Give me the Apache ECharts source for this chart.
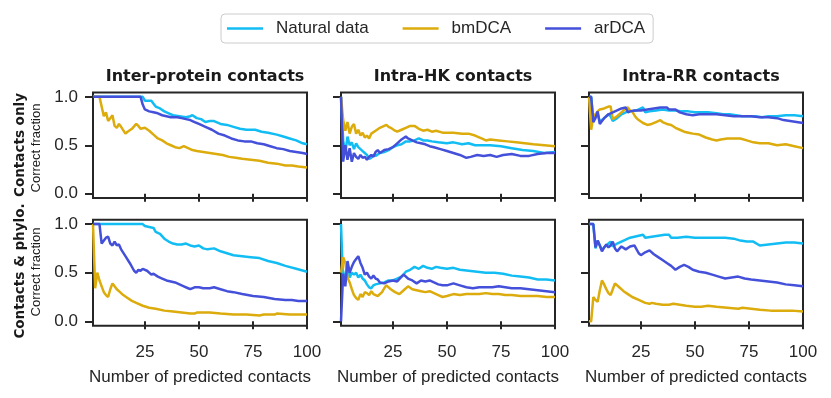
<!DOCTYPE html>
<html>
<head>
<meta charset="utf-8">
<script src="https://cdn.jsdelivr.net/npm/echarts@6/dist/echarts.min.js"></script>
<style>
  html, body { margin: 0; padding: 0; background: #fff; }
  #main { width: 831px; height: 398px; }
</style>
</head>
<body>
<div id="main"></div>
<script>
// data: [number of predicted contacts, correct fraction]
const colTitles = ["Inter-protein contacts", "Intra-HK contacts", "Intra-RR contacts"]
const xTicks = [25, 50, 75, 100]
const yTicks = [0, 0.5, 1]

const interOnlyNat = [[1,1],[24,1],[25,0.96],[28,0.96],[29,0.93],[30,0.9],[32,0.88],[34,0.85],[36,0.83],[38,0.81],[41,0.8],[44,0.79],[46,0.8],[47,0.81],[49,0.78],[51,0.77],[53,0.74],[55,0.75],[57,0.75],[60,0.72],[63,0.71],[66,0.69],[69,0.67],[72,0.66],[76,0.66],[79,0.64],[82,0.63],[86,0.61],[89,0.59],[92,0.57],[95,0.55],[98,0.52],[100,0.51]]
const interOnlyBm = [[1,1],[4,1],[5,0.9],[6,0.8],[7,0.84],[8,0.75],[9,0.78],[10,0.81],[11,0.7],[12,0.68],[13,0.72],[14,0.69],[16,0.62],[17,0.64],[19,0.67],[21,0.72],[22,0.7],[23,0.67],[25,0.68],[27,0.65],[29,0.61],[31,0.57],[33,0.55],[35,0.52],[37,0.5],[39,0.48],[41,0.47],[43,0.49],[45,0.47],[47,0.45],[49,0.44],[52,0.43],[55,0.42],[58,0.41],[61,0.4],[64,0.38],[67,0.37],[70,0.36],[74,0.35],[78,0.34],[82,0.32],[86,0.31],[90,0.29],[93,0.29],[96,0.28],[100,0.27]]
const interOnlyAr = [[1,1],[23,1],[24,0.92],[25,0.87],[27,0.85],[29,0.84],[31,0.83],[33,0.81],[35,0.8],[37,0.79],[40,0.79],[42,0.78],[44,0.77],[46,0.76],[48,0.74],[50,0.72],[53,0.69],[56,0.66],[59,0.62],[62,0.6],[65,0.57],[68,0.55],[71,0.54],[74,0.54],[77,0.52],[80,0.51],[83,0.49],[86,0.47],[89,0.46],[92,0.44],[95,0.43],[98,0.42],[100,0.41]]

const hkOnlyNat = [[1,1],[2,0.55],[3,0.42],[4,0.59],[5,0.5],[6,0.53],[7,0.46],[8,0.52],[9,0.48],[10,0.46],[11,0.44],[12,0.42],[13,0.4],[14,0.36],[15,0.37],[16,0.4],[17,0.39],[19,0.42],[21,0.43],[23,0.45],[25,0.48],[27,0.5],[29,0.51],[31,0.54],[33,0.54],[35,0.55],[37,0.57],[39,0.55],[41,0.55],[43,0.54],[46,0.53],[50,0.52],[53,0.53],[57,0.51],[60,0.52],[63,0.5],[66,0.5],[70,0.5],[75,0.49],[80,0.47],[85,0.45],[90,0.44],[95,0.42],[100,0.43]]
const hkOnlyBm = [[1,1],[2,0.76],[3,0.65],[4,0.74],[5,0.62],[6,0.69],[7,0.72],[8,0.62],[9,0.66],[10,0.6],[11,0.63],[12,0.58],[13,0.6],[14,0.57],[15,0.62],[17,0.65],[19,0.68],[21,0.7],[22,0.71],[23,0.69],[24,0.68],[26,0.65],[27,0.64],[29,0.66],[31,0.68],[33,0.7],[35,0.7],[37,0.67],[39,0.65],[41,0.66],[43,0.64],[45,0.65],[48,0.63],[50,0.63],[53,0.63],[57,0.62],[60,0.62],[63,0.6],[66,0.57],[68,0.55],[70,0.56],[74,0.55],[78,0.54],[82,0.53],[86,0.52],[90,0.51],[95,0.5],[100,0.49]]
const hkOnlyAr = [[1,1],[2,0.33],[3,0.5],[4,0.35],[5,0.47],[6,0.33],[7,0.42],[8,0.38],[9,0.36],[10,0.4],[11,0.37],[12,0.38],[13,0.35],[14,0.38],[15,0.4],[16,0.38],[17,0.43],[18,0.45],[19,0.42],[21,0.45],[23,0.46],[25,0.48],[27,0.52],[29,0.56],[31,0.59],[32,0.57],[34,0.55],[36,0.53],[38,0.52],[40,0.51],[42,0.49],[44,0.48],[47,0.46],[50,0.44],[53,0.42],[56,0.4],[59,0.37],[61,0.38],[64,0.4],[67,0.39],[70,0.4],[73,0.38],[76,0.4],[80,0.41],[84,0.39],[88,0.39],[92,0.41],[96,0.42],[100,0.42]]

const rrOnlyNat = [[1,1],[2,1],[3,0.75],[4,0.8],[5,0.83],[6,0.74],[8,0.78],[10,0.82],[11,0.8],[12,0.75],[14,0.78],[16,0.82],[18,0.84],[20,0.85],[23,0.86],[26,0.89],[27,0.84],[29,0.85],[32,0.86],[35,0.87],[38,0.86],[41,0.86],[44,0.85],[47,0.85],[50,0.84],[53,0.84],[56,0.84],[60,0.83],[63,0.82],[66,0.82],[69,0.81],[72,0.8],[75,0.8],[78,0.8],[81,0.79],[84,0.8],[88,0.8],[92,0.81],[96,0.81],[100,0.8]]
const rrOnlyBm = [[1,1],[2,0.66],[3,0.8],[4,0.82],[5,0.85],[6,0.87],[8,0.88],[10,0.9],[11,0.9],[12,0.77],[14,0.8],[16,0.84],[18,0.88],[19,0.89],[20,0.86],[21,0.85],[22,0.81],[23,0.78],[24,0.76],[26,0.73],[28,0.71],[30,0.72],[32,0.74],[34,0.76],[35,0.74],[37,0.72],[39,0.71],[41,0.68],[43,0.66],[45,0.64],[47,0.63],[49,0.62],[52,0.61],[55,0.58],[58,0.56],[60,0.55],[62,0.56],[65,0.57],[68,0.57],[71,0.57],[74,0.55],[77,0.53],[80,0.52],[84,0.52],[88,0.5],[92,0.51],[96,0.49],[100,0.47]]
const rrOnlyAr = [[1,1],[2,1],[3,0.74],[4,0.78],[5,0.85],[6,0.72],[7,0.75],[8,0.78],[9,0.8],[10,0.82],[12,0.84],[14,0.86],[16,0.88],[18,0.89],[19,0.84],[20,0.85],[22,0.86],[25,0.86],[28,0.87],[31,0.88],[34,0.89],[37,0.89],[38,0.87],[41,0.87],[43,0.84],[46,0.82],[49,0.81],[52,0.82],[56,0.82],[60,0.82],[64,0.81],[68,0.8],[72,0.8],[76,0.8],[80,0.79],[84,0.79],[88,0.78],[91,0.76],[94,0.75],[97,0.74],[100,0.73]]

const interPhyNat = [[1,1],[24,1],[25,0.98],[27,0.97],[29,0.96],[30,0.92],[32,0.9],[34,0.85],[36,0.82],[38,0.8],[40,0.79],[42,0.79],[44,0.8],[46,0.78],[48,0.77],[50,0.78],[52,0.75],[54,0.74],[57,0.75],[60,0.72],[63,0.7],[66,0.68],[70,0.67],[74,0.66],[78,0.65],[82,0.62],[86,0.6],[90,0.57],[95,0.54],[100,0.51]]
const interPhyBm = [[1,1],[2,0.34],[3,0.5],[4,0.42],[5,0.36],[6,0.3],[7,0.27],[8,0.25],[9,0.33],[10,0.39],[11,0.36],[12,0.33],[13,0.31],[15,0.27],[17,0.24],[19,0.21],[21,0.19],[24,0.16],[27,0.14],[30,0.13],[34,0.11],[38,0.1],[42,0.09],[46,0.08],[48,0.08],[49,0.09],[55,0.09],[60,0.08],[66,0.07],[72,0.07],[78,0.06],[80,0.07],[85,0.07],[86,0.08],[92,0.07],[100,0.07]]
const interPhyAr = [[1,1],[4,1],[5,0.8],[7,0.86],[8,0.87],[9,0.8],[10,0.78],[11,0.82],[12,0.78],[13,0.79],[14,0.74],[16,0.67],[18,0.6],[20,0.52],[21,0.5],[22,0.53],[23,0.52],[24,0.54],[26,0.52],[28,0.48],[29,0.49],[31,0.46],[33,0.44],[35,0.42],[37,0.41],[39,0.4],[41,0.38],[43,0.36],[45,0.34],[46,0.33],[48,0.35],[50,0.35],[52,0.34],[55,0.34],[57,0.35],[60,0.33],[63,0.31],[66,0.3],[70,0.28],[75,0.26],[80,0.25],[85,0.23],[90,0.22],[93,0.22],[96,0.21],[100,0.21]]

const hkPhyNat = [[1,1],[2,0.38],[3,0.49],[4,0.59],[5,0.45],[6,0.5],[7,0.48],[8,0.5],[9,0.45],[10,0.48],[11,0.44],[12,0.42],[13,0.38],[14,0.35],[15,0.34],[16,0.37],[17,0.38],[19,0.39],[21,0.4],[23,0.42],[25,0.42],[27,0.44],[29,0.46],[31,0.51],[33,0.53],[35,0.56],[37,0.54],[39,0.57],[41,0.55],[43,0.54],[45,0.56],[47,0.55],[50,0.54],[53,0.55],[56,0.53],[60,0.52],[64,0.51],[68,0.5],[72,0.5],[76,0.49],[80,0.47],[84,0.46],[88,0.45],[92,0.43],[96,0.43],[100,0.42]]
const hkPhyBm = [[1,0.5],[2,0.66],[3,0.6],[4,0.45],[5,0.4],[6,0.33],[7,0.27],[8,0.24],[9,0.22],[10,0.28],[11,0.25],[12,0.3],[13,0.29],[14,0.27],[15,0.31],[16,0.28],[18,0.26],[20,0.3],[21,0.34],[22,0.37],[24,0.33],[26,0.3],[28,0.28],[30,0.32],[32,0.36],[34,0.33],[36,0.32],[38,0.31],[40,0.3],[42,0.31],[44,0.29],[46,0.27],[48,0.25],[50,0.26],[53,0.28],[56,0.27],[59,0.28],[62,0.28],[65,0.28],[68,0.29],[71,0.28],[74,0.28],[77,0.27],[80,0.27],[84,0.26],[88,0.26],[92,0.26],[96,0.25],[100,0.25]]
const hkPhyAr = [[1,0],[2,0.49],[3,0.36],[4,0.62],[5,0.5],[6,0.56],[7,0.61],[8,0.64],[9,0.67],[10,0.6],[11,0.55],[12,0.48],[13,0.5],[14,0.46],[15,0.44],[16,0.47],[17,0.44],[18,0.43],[19,0.4],[21,0.39],[23,0.41],[25,0.42],[27,0.41],[29,0.46],[30,0.48],[32,0.44],[34,0.42],[36,0.39],[38,0.42],[40,0.41],[42,0.42],[44,0.4],[46,0.38],[48,0.37],[50,0.37],[53,0.39],[56,0.37],[59,0.35],[62,0.34],[65,0.35],[68,0.35],[71,0.35],[74,0.36],[77,0.35],[80,0.34],[84,0.34],[88,0.33],[92,0.32],[96,0.31],[100,0.3]]

const rrPhyNat = [[1,1],[3,1],[4,0.75],[5,0.83],[6,0.78],[7,0.73],[8,0.76],[9,0.78],[10,0.8],[11,0.82],[12,0.77],[14,0.8],[16,0.82],[18,0.84],[20,0.86],[22,0.87],[24,0.88],[26,0.89],[27,0.86],[30,0.87],[33,0.88],[36,0.89],[38,0.89],[39,0.86],[42,0.86],[46,0.87],[50,0.86],[55,0.86],[60,0.86],[64,0.86],[68,0.85],[71,0.83],[74,0.82],[77,0.82],[80,0.78],[84,0.79],[88,0.8],[92,0.81],[96,0.81],[100,0.8]]
const rrPhyBm = [[1,0],[2,0],[3,0.25],[4,0.22],[5,0.2],[6,0.32],[7,0.42],[8,0.38],[9,0.33],[10,0.29],[11,0.27],[12,0.33],[13,0.39],[15,0.35],[17,0.31],[19,0.28],[21,0.25],[24,0.22],[27,0.19],[29,0.18],[30,0.19],[32,0.18],[35,0.17],[38,0.17],[40,0.18],[43,0.17],[46,0.16],[50,0.15],[53,0.15],[56,0.16],[60,0.15],[65,0.14],[70,0.13],[72,0.14],[76,0.13],[80,0.12],[85,0.11],[90,0.11],[95,0.11],[100,0.1]]
const rrPhyAr = [[1,1],[3,1],[4,0.76],[5,0.83],[6,0.78],[7,0.72],[8,0.76],[9,0.79],[10,0.76],[11,0.78],[12,0.82],[13,0.75],[14,0.72],[16,0.77],[18,0.74],[20,0.77],[22,0.78],[24,0.7],[25,0.68],[27,0.71],[29,0.73],[31,0.69],[33,0.66],[35,0.63],[37,0.6],[39,0.57],[41,0.53],[43,0.56],[45,0.58],[47,0.56],[49,0.53],[52,0.51],[55,0.5],[58,0.48],[61,0.46],[64,0.44],[67,0.45],[70,0.46],[73,0.44],[76,0.43],[80,0.42],[84,0.41],[88,0.4],[92,0.38],[96,0.37],[100,0.36]]

// panels in reading order: top row then bottom row
const panels = [
  [interOnlyNat, interOnlyBm, interOnlyAr],
  [hkOnlyNat, hkOnlyBm, hkOnlyAr],
  [rrOnlyNat, rrOnlyBm, rrOnlyAr],
  [interPhyNat, interPhyBm, interPhyAr],
  [hkPhyNat, hkPhyBm, hkPhyAr],
  [rrPhyNat, rrPhyBm, rrPhyAr]
]
const names = ["Natural data", "bmDCA", "arDCA"]
const colors = ["#12bdf4", "#dcab0c", "#4450d9"]

// layout
const FONT = "Liberation Sans"
const BOLD_FONT = "DejaVu Sans"
const INK = "#262626"
const colLeft = [93, 341, 589]
const colWidth = 214
const rowTop = [92.5, 219.7]
const rowHeight = [105.5, 106]

const grids = [], xAxes = [], yAxes = [], series = []

panels.forEach((lines, k) => {
  const row = Math.floor(k / 3)
  const col = k % 3
  grids.push({
    left: colLeft[col], top: rowTop[row], width: colWidth, height: rowHeight[row],
    show: true, borderColor: INK, borderWidth: 2, backgroundColor: "transparent",
    containLabel: false, outerBoundsMode: "none"
  })
  xAxes.push({
    type: "value", gridIndex: k, min: 1, max: 100,
    axisLine: { show: false },
    splitLine: { show: false },
    axisTick: { show: true, customValues: xTicks, length: 8, lineStyle: { color: INK, width: 2 } },
    axisLabel: { show: row === 1, customValues: xTicks, margin: 18, fontSize: 17, fontFamily: FONT, color: INK },
    name: row === 1 ? "Number of predicted contacts" : "",
    nameLocation: "middle", nameGap: 43,
    nameTextStyle: { fontSize: 17, fontFamily: FONT, color: INK }
  })
  yAxes.push({
    type: "value", gridIndex: k, min: -0.045, max: 1.045,
    axisLine: { show: false },
    splitLine: { show: false },
    axisTick: { show: true, customValues: yTicks, length: 8, lineStyle: { color: INK, width: 2 } },
    axisLabel: {
      show: col === 0, customValues: yTicks, margin: 15, fontSize: 17, fontFamily: FONT, color: INK,
      formatter: v => v.toFixed(1)
    }
  })
  lines.forEach((data, j) => {
    series.push({
      type: "line", name: names[j], xAxisIndex: k, yAxisIndex: k,
      data: data, symbol: "none", showSymbol: false, clip: true,
      color: colors[j],
      lineStyle: { width: 2.5, color: colors[j] },
      z: 2 + j
    })
  })
})

const titles = colTitles.map((t, i) => ({
  text: t, left: colLeft[i] + colWidth / 2, top: 64, textAlign: "center",
  textStyle: { fontSize: 16, fontWeight: "bold", fontFamily: BOLD_FONT, color: "#1a1a1a" }
}))

const rowLabel = (text, x, y, bold) => ({
  type: "text", x: x, y: y, rotation: Math.PI / 2,
  style: {
    text: text, align: "center", verticalAlign: "middle", fill: "#1a1a1a",
    font: bold ? "bold 13.5px \"" + BOLD_FONT + "\"" : "13px " + FONT
  }
})

const options = {
  animation: false,
  backgroundColor: "#fff",
  title: titles,
  legend: {
    data: names, left: 221, top: 14,
    icon: "rect", itemWidth: 36, itemHeight: 2.5, itemGap: 34,
    padding: [6, 8, 6, 6],
    borderColor: "#cccccc", borderWidth: 1, borderRadius: 4,
    textStyle: { fontSize: 17, fontFamily: FONT, color: INK, padding: [0, 0, 0, 8] }
  },
  grid: grids,
  xAxis: xAxes,
  yAxis: yAxes,
  series: series,
  graphic: [
    rowLabel("Contacts only", 20, 145, true),
    rowLabel("Correct fraction", 36, 148, false),
    rowLabel("Contacts & phylo.", 20, 271, true),
    rowLabel("Correct fraction", 36, 272, false)
  ]
}

const chartContainer = document.getElementById("main")
const myChart = echarts.init(chartContainer, null, { renderer: "canvas" })
myChart.setOption(options)
window.onresize = () => myChart.resize()
</script>
</body>
</html>
